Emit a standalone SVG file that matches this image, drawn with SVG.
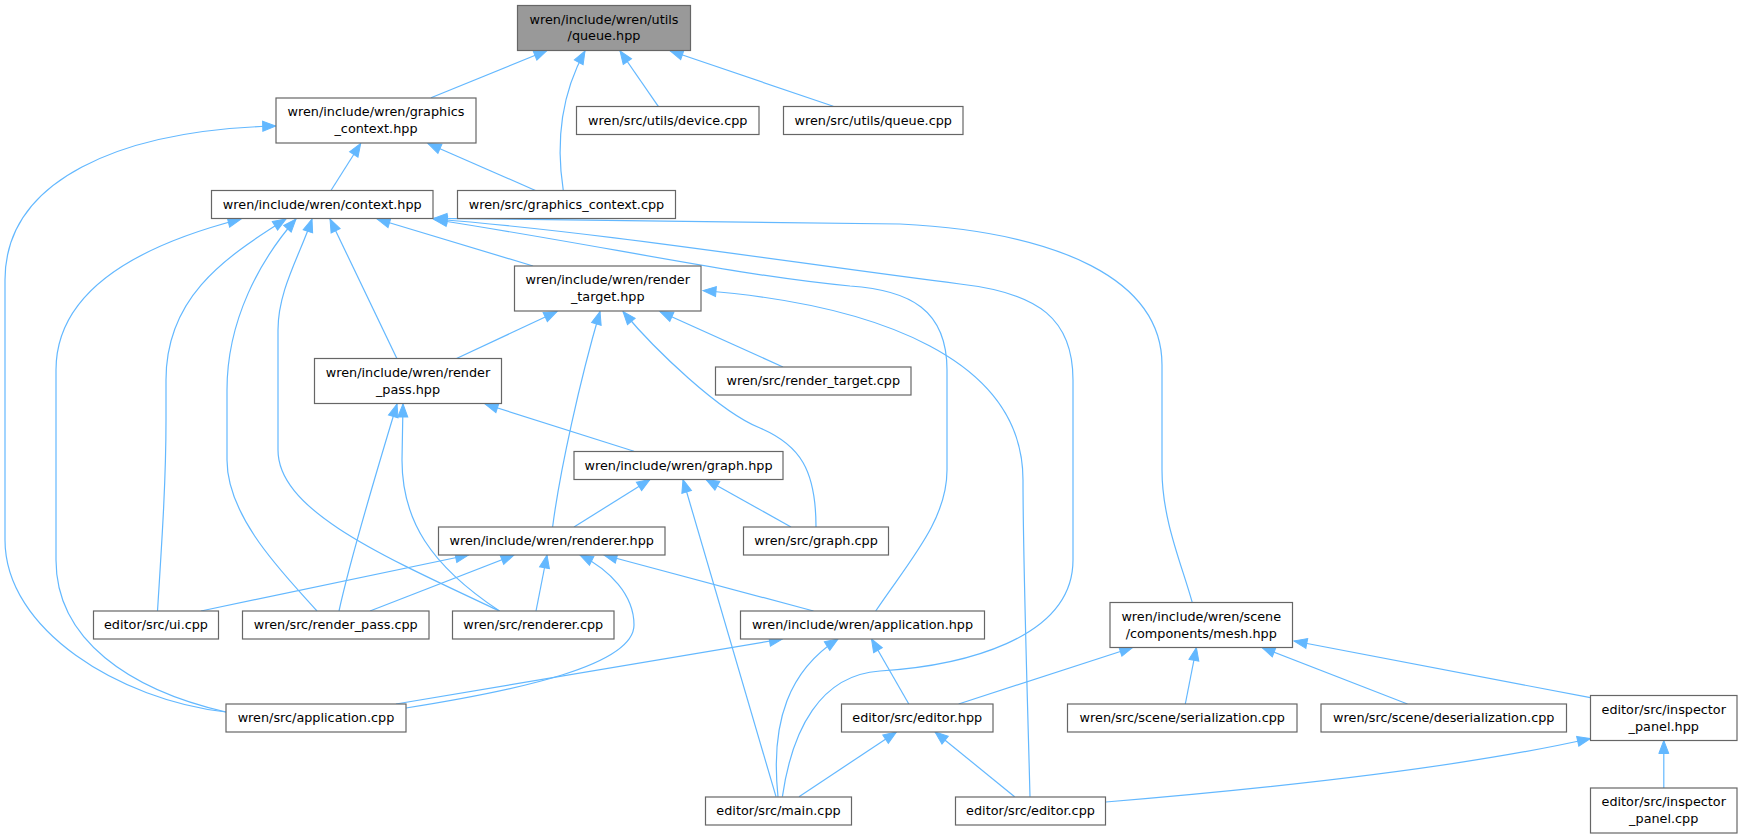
<svg xmlns="http://www.w3.org/2000/svg" width="1743" height="838" viewBox="0 0 1743 838">
<defs>
<style>
.n rect{fill:#ffffff;stroke:#666666;stroke-width:1.2}
.n.main rect{fill:#999999}
.n text{font-family:"DejaVu Sans","Liberation Sans",sans-serif;font-size:12.8px;fill:#000000;text-anchor:middle}
.e path{fill:none;stroke:#63b8ff;stroke-width:1.2;marker-end:url(#ah)}
</style>
<marker id="ah" markerUnits="userSpaceOnUse" markerWidth="16" markerHeight="14" refX="13" refY="5" orient="auto" overflow="visible">
<path d="M0,0 L13,5 L0,10 Z" fill="#63b8ff" stroke="#63b8ff" stroke-width="1"/>
</marker>
</defs>
<rect width="1743" height="838" fill="#ffffff"/>
<g id="edges" class="e">
<path d="M431,97.7 L547,50.5"/>
<path d="M563.3,190.7 C557,150 558,100 585,51"/>
<path d="M658.3,106.3 L620,51"/>
<path d="M833.3,106.3 L670,50.7"/>
<path d="M330.8,190.7 L360.7,143.5"/>
<path d="M536,190.7 L428,143.5"/>
<path d="M226,712 C120,700 5,630 5,540 L5,280 C5,180 120,130 275.7,126"/>
<path d="M226,712 C130,690 56,640 56,560 L56,370 C56,290 140,245 241,219"/>
<path d="M157.5,611 C162,540 166,480 166,420 L166,380 C166,300 220,260 286,219"/>
<path d="M317,611 C290,580 227,520 227,460 L227,390 C227,320 260,260 296,219"/>
<path d="M499.5,611 C380,555 278,510 278,450 L278,330 C278,290 300,255 312,219"/>
<path d="M397,358.7 L330,219"/>
<path d="M533,266 L377,219"/>
<path d="M1192.3,602.7 C1182,565 1162,520 1162,470 L1162,365 C1162,280 1060,232 900,224 L434,218.3"/>
<path d="M875.7,611 C910,560 947,520 947,470 L947,370 C947,310 910,290 850,286 C740,276 600,245 434,219.5"/>
<path d="M782.4,796.7 C792,730 820,675 880,671 C960,666 1073,640 1073,560 L1073,380 C1073,320 1040,293 960,284 C800,264 600,232 434,219"/>
<path d="M339,611 C350,560 380,460 397,404"/>
<path d="M499.5,611 C430,565 402,520 402,460 L403,404"/>
<path d="M634,451.3 L485,404"/>
<path d="M456.5,358.5 L557,311.5"/>
<path d="M552.6,527 C560,470 580,380 600,311.5"/>
<path d="M816,527 C816,470 800,445 760,428 C720,412 655,350 623,311.5"/>
<path d="M783,367 L660,311.5"/>
<path d="M1030,796.7 C1027,680 1023,560 1023,480 C1023,360 880,305 703,290.5"/>
<path d="M574,527 L650,479.5"/>
<path d="M791,527 L706,479.5"/>
<path d="M776,796.7 L683,479.5"/>
<path d="M201,611 L468.5,555"/>
<path d="M370,611 L514,555"/>
<path d="M536,611 L547,555"/>
<path d="M406,708 C520,690 634,665 634,625 C634,595 610,570 580,555"/>
<path d="M813.5,611 L604,555"/>
<path d="M396,704 L782.4,639"/>
<path d="M778,796.7 C770,720 790,670 838,639"/>
<path d="M908.8,704 L871.5,639"/>
<path d="M799,796.7 L896.4,732"/>
<path d="M1014.6,796.7 L935,732"/>
<path d="M958.6,704 L1132.7,647.5"/>
<path d="M1185.3,704 L1196.4,647.5"/>
<path d="M1407.5,704 L1262,647.5"/>
<path d="M1590.4,697.7 L1294,641"/>
<path d="M1663.8,788 L1663.8,740.5"/>
<path d="M1105.8,802 C1250,790 1450,770 1590.4,738.5"/>
</g>
<g id="n_queue_hpp" class="n main"><rect x="517.5" y="5.5" width="173" height="45"/><text x="604" y="23.5">wren/include/wren/utils</text><text x="604" y="40.2">/queue.hpp</text></g>
<g id="n_graphics_context_hpp" class="n"><rect x="276" y="98" width="200" height="45"/><text x="376" y="116">wren/include/wren/graphics</text><text x="376" y="132.7">_context.hpp</text></g>
<g id="n_device_cpp" class="n"><rect x="576.5" y="106.5" width="182.5" height="28"/><text x="667.75" y="124.5">wren/src/utils/device.cpp</text></g>
<g id="n_queue_cpp" class="n"><rect x="783.5" y="106.5" width="179.5" height="28"/><text x="873.25" y="124.5">wren/src/utils/queue.cpp</text></g>
<g id="n_context_hpp" class="n"><rect x="211.5" y="190.5" width="221.5" height="28"/><text x="322.25" y="208.5">wren/include/wren/context.hpp</text></g>
<g id="n_graphics_context_cpp" class="n"><rect x="457.5" y="190.5" width="218" height="28"/><text x="566.5" y="208.5">wren/src/graphics_context.cpp</text></g>
<g id="n_render_target_hpp" class="n"><rect x="514.5" y="266" width="186.5" height="45"/><text x="607.75" y="284.3">wren/include/wren/render</text><text x="607.75" y="301">_target.hpp</text></g>
<g id="n_render_pass_hpp" class="n"><rect x="314.5" y="358.5" width="187" height="45"/><text x="408" y="376.8">wren/include/wren/render</text><text x="408" y="393.5">_pass.hpp</text></g>
<g id="n_render_target_cpp" class="n"><rect x="715.5" y="367" width="195.5" height="28"/><text x="813.25" y="385">wren/src/render_target.cpp</text></g>
<g id="n_graph_hpp" class="n"><rect x="574" y="451.5" width="209" height="28"/><text x="678.5" y="469.5">wren/include/wren/graph.hpp</text></g>
<g id="n_renderer_hpp" class="n"><rect x="438.5" y="527" width="226.5" height="28"/><text x="551.75" y="545">wren/include/wren/renderer.hpp</text></g>
<g id="n_graph_cpp" class="n"><rect x="743.5" y="527" width="145" height="28"/><text x="816" y="545">wren/src/graph.cpp</text></g>
<g id="n_ui_cpp" class="n"><rect x="93.5" y="611" width="125" height="28"/><text x="156" y="629">editor/src/ui.cpp</text></g>
<g id="n_render_pass_cpp" class="n"><rect x="242.5" y="611" width="186.5" height="28"/><text x="335.75" y="629">wren/src/render_pass.cpp</text></g>
<g id="n_renderer_cpp" class="n"><rect x="452.5" y="611" width="161.5" height="28"/><text x="533.25" y="629">wren/src/renderer.cpp</text></g>
<g id="n_application_hpp" class="n"><rect x="740.5" y="611" width="244" height="28"/><text x="862.5" y="629">wren/include/wren/application.hpp</text></g>
<g id="n_mesh_hpp" class="n"><rect x="1110" y="602.5" width="182.5" height="45"/><text x="1201.25" y="621">wren/include/wren/scene</text><text x="1201.25" y="637.7">/components/mesh.hpp</text></g>
<g id="n_application_cpp" class="n"><rect x="226" y="704" width="180" height="28"/><text x="316" y="722">wren/src/application.cpp</text></g>
<g id="n_editor_hpp" class="n"><rect x="841.5" y="704" width="151.5" height="28"/><text x="917.25" y="722">editor/src/editor.hpp</text></g>
<g id="n_serialization_cpp" class="n"><rect x="1067.5" y="704" width="229.5" height="28"/><text x="1182.25" y="722">wren/src/scene/serialization.cpp</text></g>
<g id="n_deserialization_cpp" class="n"><rect x="1321" y="704" width="245.5" height="28"/><text x="1443.75" y="722">wren/src/scene/deserialization.cpp</text></g>
<g id="n_inspector_panel_hpp" class="n"><rect x="1590.5" y="695.5" width="146.5" height="45"/><text x="1663.75" y="714">editor/src/inspector</text><text x="1663.75" y="730.7">_panel.hpp</text></g>
<g id="n_main_cpp" class="n"><rect x="705.5" y="797" width="146" height="28"/><text x="778.5" y="815">editor/src/main.cpp</text></g>
<g id="n_editor_cpp" class="n"><rect x="955.5" y="797" width="150" height="28"/><text x="1030.5" y="815">editor/src/editor.cpp</text></g>
<g id="n_inspector_panel_cpp" class="n"><rect x="1590.5" y="788" width="146.5" height="45"/><text x="1663.75" y="806.3">editor/src/inspector</text><text x="1663.75" y="823">_panel.cpp</text></g>
</svg>
